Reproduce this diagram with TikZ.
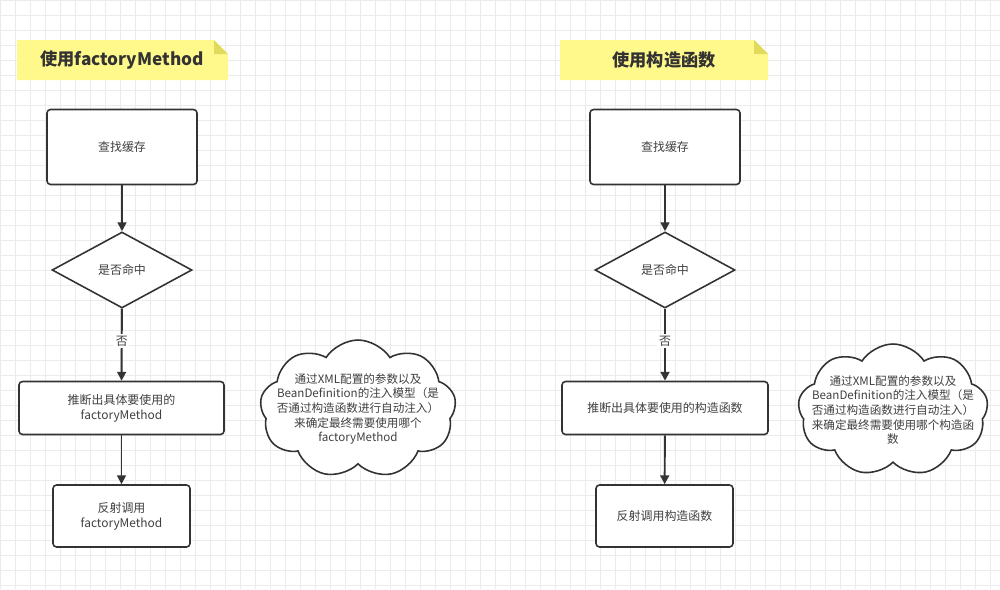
\documentclass[tikz,border=0pt]{standalone}
\usepackage{fontspec}
\setmainfont{Noto Sans CJK SC}
\usetikzlibrary{shapes.geometric,shapes.symbols,arrows.meta}
\begin{document}
\begin{tikzpicture}[x=0.02cm,y=-0.02cm,
  box/.style={draw=black!80,line width=0.9pt,rounded corners=2pt,fill=white,align=center,font=\fontsize{6.8pt}{8.5pt}\selectfont,text=black!75,inner sep=1pt},
  dia/.style={draw=black!80,line width=0.9pt,diamond,aspect=1.84,fill=white,inner sep=0pt,minimum width=140*0.02cm,minimum height=76*0.02cm,font=\fontsize{6.8pt}{8.5pt}\selectfont,text=black!75},
  cl/.style={draw=black!80,line width=0.9pt,cloud,cloud puffs=9,cloud puff arc=115,cloud ignores aspect,fill=white,inner sep=0pt},
  ct/.style={align=center,font=\fontsize{6.6pt}{8.3pt}\selectfont,text=black!75,inner sep=0pt},
  arr/.style={draw=black!80,line width=1.1pt,-{Triangle[length=5pt,width=5pt]}},
  lbl/.style={fill=white,font=\fontsize{6.8pt}{8pt}\selectfont,text=black!75,inner sep=1pt},
  ttl/.style={font=\bfseries\fontsize{9.8pt}{11pt}\selectfont,text=black!80}]
\useasboundingbox (0,0) rectangle (1000,589);
\fill[white] (0,0) rectangle (1000,589);
\draw[black!8,line width=0.3pt,step=0.3cm] (0,0) grid (1000,589);
% title notes
\fill[yellow!45!white] (17,40) -- (214,40) -- (228,54) -- (228,80) -- (17,80) -- cycle;
\fill[olive!45!yellow!60!white] (214,40) -- (228,54) -- (214,54) -- cycle;
\node[ttl] (t1) at (122,60) {使用factoryMethod};
\fill[yellow!45!white] (560,40) -- (754,40) -- (768,54) -- (768,80) -- (560,80) -- cycle;
\fill[olive!45!yellow!60!white] (754,40) -- (768,54) -- (754,54) -- cycle;
\node[ttl] (t2) at (664,60) {使用构造函数};
% left
\node[box,minimum width=150*0.02cm,minimum height=75*0.02cm] (a1) at (122,147) {查找缓存};
\node[dia] (a2) at (122,270) {是否命中};
\node[box,minimum width=205*0.02cm,minimum height=53*0.02cm] (a3) at (121.5,408) {推断出具体要使用的\\factoryMethod};
\node[box,minimum width=137*0.02cm,minimum height=62*0.02cm] (a4) at (121.5,516) {反射调用\\factoryMethod};
\draw[arr] (a1) -- (a2);
\draw[arr] (a2) -- node[lbl,pos=0.45] {否} (a3);
\draw[arr] (a3) -- (a4);
\node[cl,minimum width=196*0.02cm,minimum height=138*0.02cm] (c1) at (358,409) {};
\node[ct] (c1t) at (358,409) {通过XML配置的参数以及\\BeanDefinition的注入模型（是\\否通过构造函数进行自动注入）\\来确定最终需要使用哪个\\factoryMethod};
% right
\node[box,minimum width=150*0.02cm,minimum height=75*0.02cm] (b1) at (665,147) {查找缓存};
\node[dia] (b2) at (665,270) {是否命中};
\node[box,minimum width=206*0.02cm,minimum height=53*0.02cm] (b3) at (665,408) {推断出具体要使用的构造函数};
\node[box,minimum width=137*0.02cm,minimum height=62*0.02cm] (b4) at (664.5,516) {反射调用构造函数};
\draw[arr] (b1) -- (b2);
\draw[arr] (b2) -- node[lbl,pos=0.45] {否} (b3);
\draw[arr] (b3) -- (b4);
\node[cl,minimum width=190*0.02cm,minimum height=132*0.02cm] (c2) at (893,410) {};
\node[ct] (c2t) at (893,410) {通过XML配置的参数以及\\BeanDefinition的注入模型（是\\否通过构造函数进行自动注入）\\来确定最终需要使用哪个构造函\\数};
\end{tikzpicture}
\end{document}
